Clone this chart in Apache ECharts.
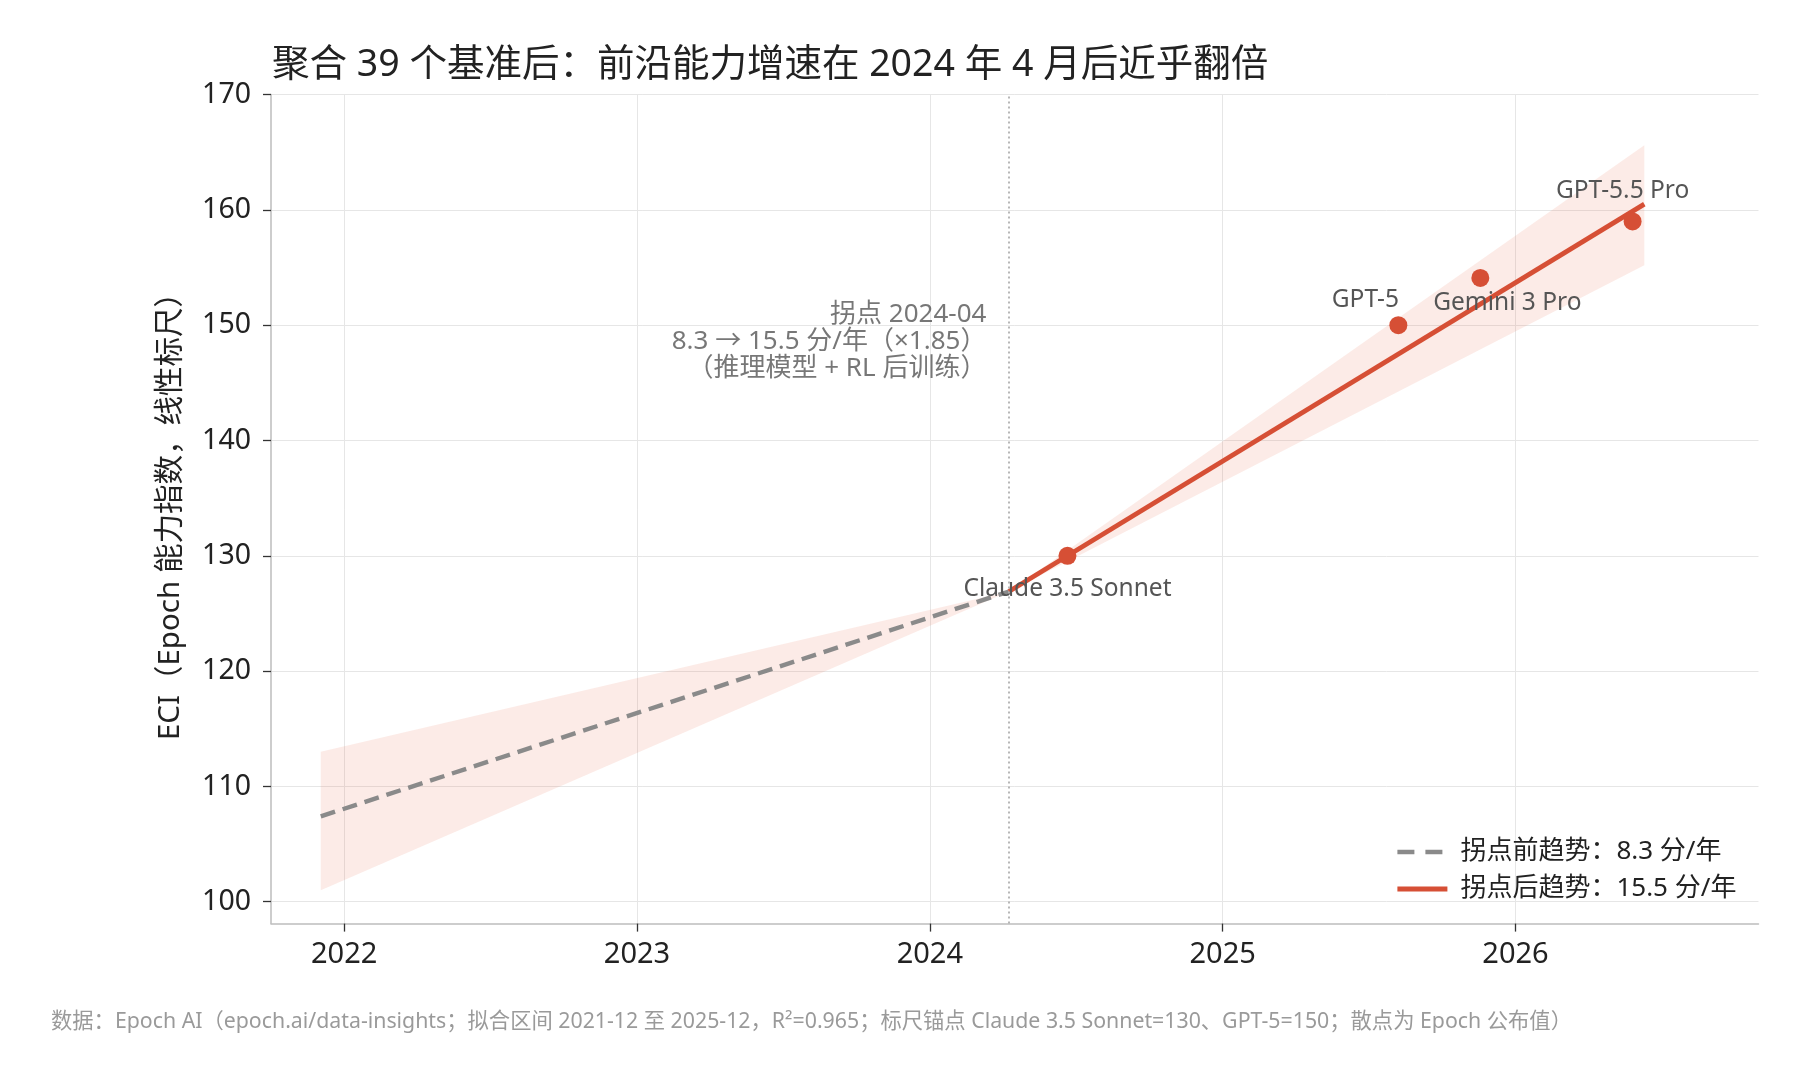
<!DOCTYPE html>
<html>
<head>
<meta charset="utf-8">
<script src="https://cdn.jsdelivr.net/npm/echarts@6/dist/echarts.min.js"></script>
<style>
html,body{margin:0;padding:0;background:#fff;}
#chart{width:1808px;height:1085px;}
</style>
</head>
<body>
<div id="chart"></div>
<script>
// ---- data ----
const yearTicks = [2022, 2023, 2024, 2025, 2026];
const yTicks = [100, 110, 120, 130, 140, 150, 160, 170];
const knotYear = 2024.27;
const preTrendX = [2021.92, 2024.27];
const preTrendY = [107.4, 126.9];
const postTrendX = [2024.27, 2026.44];
const postTrendY = [126.9, 160.5];
const bandX = [2021.92, 2024.27, 2026.44];
const bandLow = [101.0, 126.9, 155.2];
const bandHigh = [113.0, 126.9, 165.6];
const modelNames = ['Claude 3.5 Sonnet', 'GPT-5', 'Gemini 3 Pro', 'GPT-5.5 Pro'];
const modelX = [2024.47, 2025.60, 2025.88, 2026.40];
const modelY = [130, 150, 154.1, 159.0];
const legendNames = ['拐点前趋势：8.3 分/年', '拐点后趋势：15.5 分/年'];
const titleText = '聚合 39 个基准后：前沿能力增速在 2024 年 4 月后近乎翻倍';
const yAxisName = 'ECI（Epoch 能力指数，线性标尺）';
const annotationLines = ['拐点 2024-04', '8.3 → 15.5 分/年（×1.85）', '（推理模型 + RL 后训练）'];
const footerText = '数据：Epoch AI（epoch.ai/data-insights；拟合区间 2021-12 至 2025-12，R²=0.965；标尺锚点 Claude 3.5 Sonnet=130、GPT-5=150；散点为 Epoch 公布值）';
const annotationY = 148.6;

// ---- styles ----
const FONT = '"Noto Sans", "Noto Sans CJK SC", sans-serif';
const RED = '#d64f35';
const GRAY = '#8a8a8a';
const labelOffsets = [[0, 33], [-33, -25], [27, 25], [-10, -30]];

const bandSegments = [];
for (let i = 0; i < bandX.length - 1; i++) {
  bandSegments.push([bandX[i], bandLow[i], bandHigh[i], bandX[i + 1], bandLow[i + 1], bandHigh[i + 1]]);
}
const preData = preTrendX.map((x, i) => [x, preTrendY[i]]);
const postData = postTrendX.map((x, i) => [x, postTrendY[i]]);
const pointData = modelX.map((x, i) => ({
  value: [x, modelY[i]],
  name: modelNames[i],
  label: { offset: labelOffsets[i] }
}));

const chart = echarts.init(document.getElementById('chart'), null, { renderer: 'canvas' });
const option = {
  backgroundColor: '#fff',
  animation: false,
  textStyle: { fontFamily: FONT },
  title: {
    text: titleText,
    left: 267,
    top: 42,
    textStyle: { fontFamily: FONT, fontSize: 37.5, fontWeight: 'normal', color: '#222' }
  },
  grid: { left: 271, right: 49.5, top: 94.6, bottom: 161.4, containLabel: false },
  legend: {
    orient: 'vertical',
    left: 1390,
    top: 834,
    itemWidth: 50,
    itemHeight: 14,
    itemGap: 11,
    itemStyle: { opacity: 0 },
    textStyle: { fontFamily: FONT, fontSize: 26, color: '#222', padding: [0, 0, 0, 8] },
    data: [
      { name: legendNames[0], lineStyle: { width: 4.4, type: [17, 11], color: GRAY } },
      { name: legendNames[1], lineStyle: { width: 4.8, color: RED } }
    ]
  },
  xAxis: {
    type: 'value',
    min: 2021.75,
    max: 2026.83,
    axisLine: { show: true, lineStyle: { color: '#bdbdbd', width: 1.5 } },
    axisTick: { show: true, customValues: yearTicks, length: 8, lineStyle: { color: '#333', width: 1.3 } },
    axisLabel: { customValues: yearTicks, margin: 17, fontSize: 29, color: '#222', fontFamily: FONT, formatter: v => String(Math.round(v)) },
    splitLine: { show: true, lineStyle: { color: '#e6e6e6', width: 1 } }
  },
  yAxis: {
    type: 'value',
    min: 98.1,
    max: 170,
    name: yAxisName,
    nameLocation: 'middle',
    nameGap: 86,
    nameTextStyle: { fontFamily: FONT, fontSize: 29.5, color: '#222' },
    axisLine: { show: true, lineStyle: { color: '#bdbdbd', width: 1.5 } },
    axisTick: { show: true, customValues: yTicks, length: 8, lineStyle: { color: '#333', width: 1.3 } },
    axisLabel: { customValues: yTicks, margin: 20, fontSize: 28.5, color: '#222', fontFamily: FONT },
    splitLine: { show: true, lineStyle: { color: '#e6e6e6', width: 1 } }
  },
  series: [
    {
      type: 'custom',
      name: 'band',
      silent: true,
      z: 1,
      encode: { x: [0, 3], y: [1, 2, 4, 5] },
      data: bandSegments,
      renderItem: function (params, api) {
        const p1 = api.coord([api.value(0), api.value(1)]);
        const p2 = api.coord([api.value(3), api.value(4)]);
        const p3 = api.coord([api.value(3), api.value(5)]);
        const p4 = api.coord([api.value(0), api.value(2)]);
        return {
          type: 'polygon',
          shape: { points: [p1, p2, p3, p4] },
          style: { fill: 'rgba(232, 100, 70, 0.13)', stroke: null }
        };
      }
    },
    {
      type: 'line',
      name: legendNames[0],
      data: preData,
      symbol: 'none',
      z: 3,
      color: GRAY,
      lineStyle: { color: GRAY, width: 4.4, type: [15, 8] },
      markLine: {
        silent: true,
        symbol: ['none', 'none'],
        label: { show: false },
        lineStyle: { color: '#b0b0b0', width: 1.8, type: [2, 3] },
        data: [{ xAxis: knotYear }]
      }
    },
    {
      type: 'line',
      name: legendNames[1],
      data: postData,
      symbol: 'none',
      z: 3,
      color: RED,
      lineStyle: { color: RED, width: 4.8 }
    },
    {
      type: 'scatter',
      name: 'models',
      data: pointData,
      symbolSize: 18,
      z: 4,
      itemStyle: { color: RED, opacity: 1 },
      label: {
        show: true,
        position: 'inside',
        formatter: p => p.name,
        fontFamily: FONT,
        fontSize: 24.5,
        color: '#555'
      }
    },
    {
      type: 'scatter',
      name: 'annotation',
      data: [[knotYear, annotationY]],
      symbolSize: 1,
      itemStyle: { color: 'rgba(0,0,0,0)' },
      silent: true,
      label: {
        show: true,
        position: 'left',
        distance: 22,
        align: 'right',
        formatter: annotationLines.join('\n'),
        fontFamily: FONT,
        fontSize: 26,
        lineHeight: 27,
        color: '#555'
      }
    }
  ],
  graphic: [
    {
      type: 'text',
      left: 51,
      top: 1011,
      style: { text: footerText, fontFamily: FONT, fontSize: 21.3, fill: '#9a9a9a' }
    }
  ]
};
chart.setOption(option);
</script>
</body>
</html>
